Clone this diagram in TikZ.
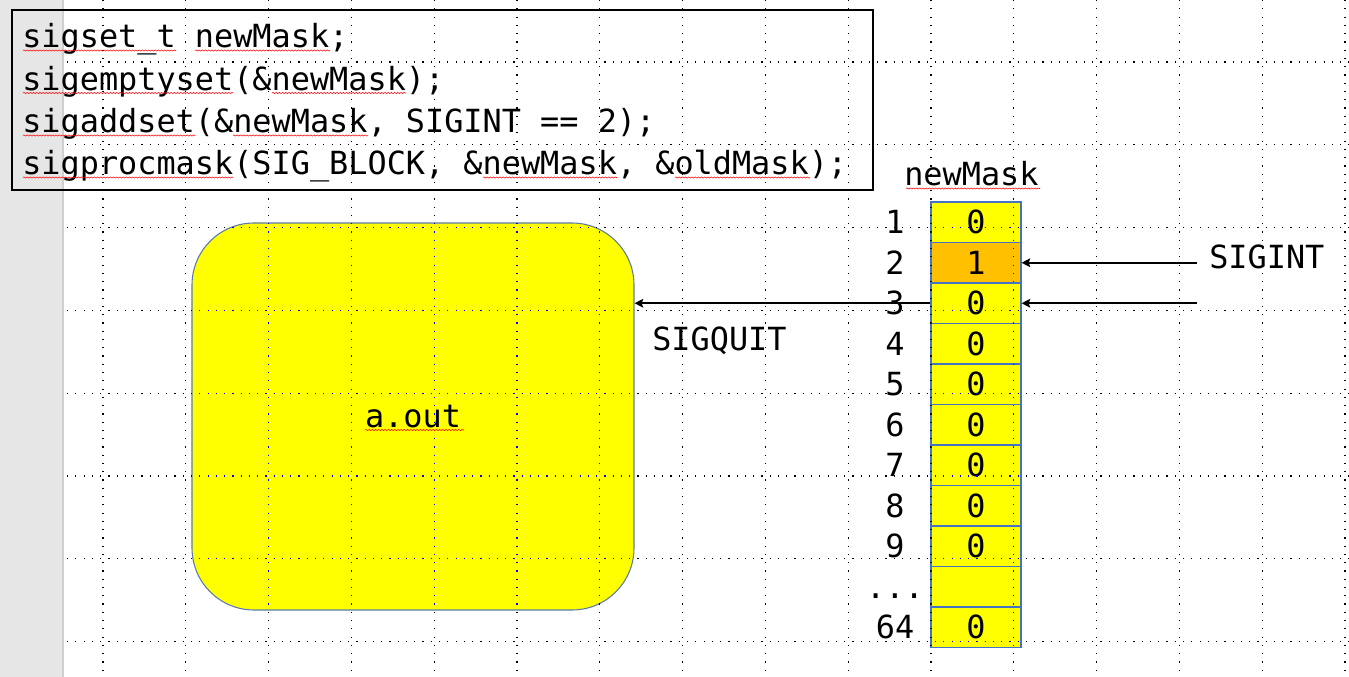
\documentclass[tikz,border=0pt]{standalone}
\usepackage{fontspec}
\setmonofont{DejaVu Sans Mono}
\usetikzlibrary{arrows.meta,decorations.pathmorphing}
\definecolor{cellblue}{HTML}{4472C4}
\definecolor{rrborder}{HTML}{5B7BA8}
\definecolor{myyellow}{HTML}{FFFF00}
\definecolor{myorange}{HTML}{FFC000}
\definecolor{stripgray}{HTML}{E6E6E6}
\definecolor{stripedge}{HTML}{CFCFCF}
\begin{document}
\begin{tikzpicture}[x=0.75pt,y=-0.75pt,
  every node/.style={font=\ttfamily\fontsize{23.9}{28}\selectfont, inner sep=0pt},
  codeline/.style={anchor=base west},
  cell/.style={draw=cellblue, line width=0.8pt, fill=myyellow, minimum width=67.5pt, minimum height=30.375pt, text height=17pt, text depth=0pt},
  lbl/.style={text height=17pt, text depth=0pt},
  griddot/.style={line width=0.9pt, dash pattern=on 0.9pt off 5.3pt},
  arr/.style={-{Stealth[length=6.5pt,width=6.5pt,inset=1.2pt]}, line width=1.45pt},
  squig/.style={red, line width=0.4pt, decorate, decoration={snake, amplitude=0.45pt, segment length=2.4pt}}
]
\useasboundingbox (0,0) rectangle (1349,677);
\fill[white] (0,0) rectangle (1349,677);
% left strip
\fill[stripgray] (0,0) rectangle (63,677);
\draw[stripedge, line width=0.8pt] (63,0) -- (63,677);

% process box
\node[draw=rrborder, line width=0.8pt, fill=myyellow, rounded corners=46.5pt,
      minimum width=331.5pt, minimum height=290.25pt] (aout) at (413,416.5) {};
\node[anchor=base] (aouttxt) at (413,427) {a.out};

% mask cells
\node[cell] (c1) at (976,222.25) {0};
\node[cell, fill=myorange] (c2) at (976,262.75) {1};
\node[cell] (c3) at (976,303.25) {0};
\node[cell] (c4) at (976,343.75) {0};
\node[cell] (c5) at (976,384.25) {0};
\node[cell] (c6) at (976,424.75) {0};
\node[cell] (c7) at (976,465.25) {0};
\node[cell] (c8) at (976,505.75) {0};
\node[cell] (c9) at (976,546.25) {0};
\node[cell] (cdots) at (976,586.75) {};
\node[cell] (c64) at (976,627.25) {0};

% row labels
\node[lbl] (r1) at (895,222.25) {1};
\node[lbl] (r2) at (895,262.75) {2};
\node[lbl] (r3) at (895,303.25) {3};
\node[lbl] (r4) at (895,343.75) {4};
\node[lbl] (r5) at (895,384.25) {5};
\node[lbl] (r6) at (895,424.75) {6};
\node[lbl] (r7) at (895,465.25) {7};
\node[lbl] (r8) at (895,505.75) {8};
\node[lbl] (r9) at (895,546.25) {9};
\node[lbl] (rdots) at (895,586.75) {...};
\node[lbl] (r64) at (895,627.25) {64};

\node[anchor=base west] (masklbl) at (904,186) {newMask};

% grid (on top)
\foreach \i in {0,...,15} \draw[griddot] ({103+82.8*\i},0) -- ({103+82.8*\i},677);
\foreach \j in {0,...,7} \draw[griddot] (67,{62+82.8*\j}) -- (1349,{62+82.8*\j});
\begin{scope}
  \clip[rounded corners=46.5pt] (192,223) rectangle (634,610) [sharp corners] (931,202) rectangle (1021,647.5);
  \foreach \i in {0,...,15} \draw[griddot, blue] ({103+82.8*\i},0) -- ({103+82.8*\i},677);
  \foreach \j in {0,...,7} \draw[griddot, blue] (67,{62+82.8*\j}) -- (1349,{62+82.8*\j});
\end{scope}

% code box
\node[draw, line width=1pt, minimum width=645.75pt, minimum height=135pt] (code) at (442.5,100) {};
\node[codeline] (l1) at (22,48) {sigset\_t newMask;};
\node[codeline] (l2) at (22,90.5) {sigemptyset(\&newMask);};
\node[codeline] (l3) at (22,133) {sigaddset(\&newMask, SIGINT == 2);};
\node[codeline] (l4) at (22,175) {sigprocmask(SIG\_BLOCK, \&newMask, \&oldMask);};

% spell-check squiggles
\draw[squig] (23,50.5) -- (176,50.5);
\draw[squig] (195,50.5) -- (330,50.5);
\draw[squig] (23,93) -- (233,93);
\draw[squig] (272,93) -- (406,93);
\draw[squig] (23,135.5) -- (195,135.5);
\draw[squig] (233,135.5) -- (368,135.5);
\draw[squig] (23,177.5) -- (233,177.5);
\draw[squig] (483,177.5) -- (617,177.5);
\draw[squig] (675,177.5) -- (810,177.5);
\draw[squig] (906,188.5) -- (1040,188.5);
\draw[squig] (365,430) -- (464,430);

% signals
\coordinate (s1) at (1197,262.75);
\coordinate (s2) at (1197,303.25);
\draw[arr] (s1) -- (c2.east);
\draw[arr] (s2) -- (c3.east);
\node[anchor=base west] (sigint) at (1209,269) {SIGINT};
\draw[arr] (c3.west) -- (c3.west -| aout.east);
\node[anchor=base west] (sigquit) at (652,350) {SIGQUIT};
\end{tikzpicture}
\end{document}
